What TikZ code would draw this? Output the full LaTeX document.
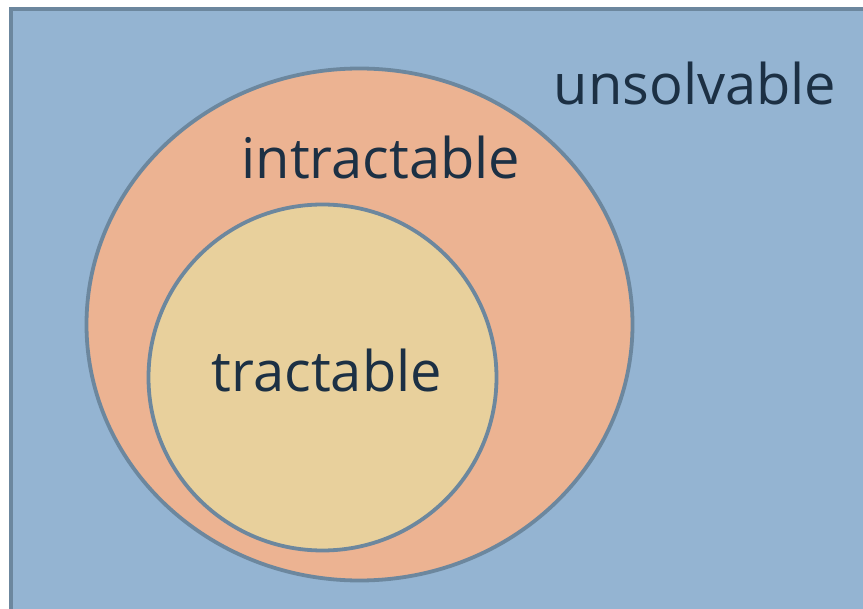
\documentclass[tikz,border=0pt]{standalone}
\usepackage{fontspec}
\setmainfont{Open Sans}
\usepackage{xcolor}
\usetikzlibrary{shapes}
\usetikzlibrary{positioning}
\definecolor{unsolvblue}{HTML}{94B4D2}
\definecolor{introrange}{HTML}{ECB392}
\definecolor{tractyellow}{HTML}{E8D09C}
\definecolor{edgegrey}{HTML}{6C879E}
\definecolor{labelink}{HTML}{1C3044}

\begin{document}
\begin{tikzpicture}[x=1pt,y=-1pt,
	region/.style={draw=edgegrey, line width=3.8pt},
	label/.style={text=labelink, inner sep=0pt, font=\fontsize{56}{60}\selectfont}]
			\useasboundingbox (0,0) rectangle (863,609);
			\clip (0,0) rectangle (863,609);
			\fill[white] (0,0) rectangle (863,609);
			% sets, largest first
			\node[region, rectangle, fill=unsolvblue, minimum width=900pt, minimum height=650pt, anchor=north west] (unsolv) at (9,7) {};
			\node[region, ellipse, fill=introrange, minimum width=546pt, minimum height=512pt] (intr) at (359.5,324.5) {};
			\node[region, ellipse, fill=tractyellow, minimum width=348pt, minimum height=346pt] (tract) at (322.5,377.5) {};
			% labels
			\node[label] (unsolvtext) at (695,84) {unsolvable};
			\node[label] (intrtext) at (381,158) {intractable};
			\node[label] (tracttext) at (327,371) {tractable};
		\end{tikzpicture}
\end{document}
